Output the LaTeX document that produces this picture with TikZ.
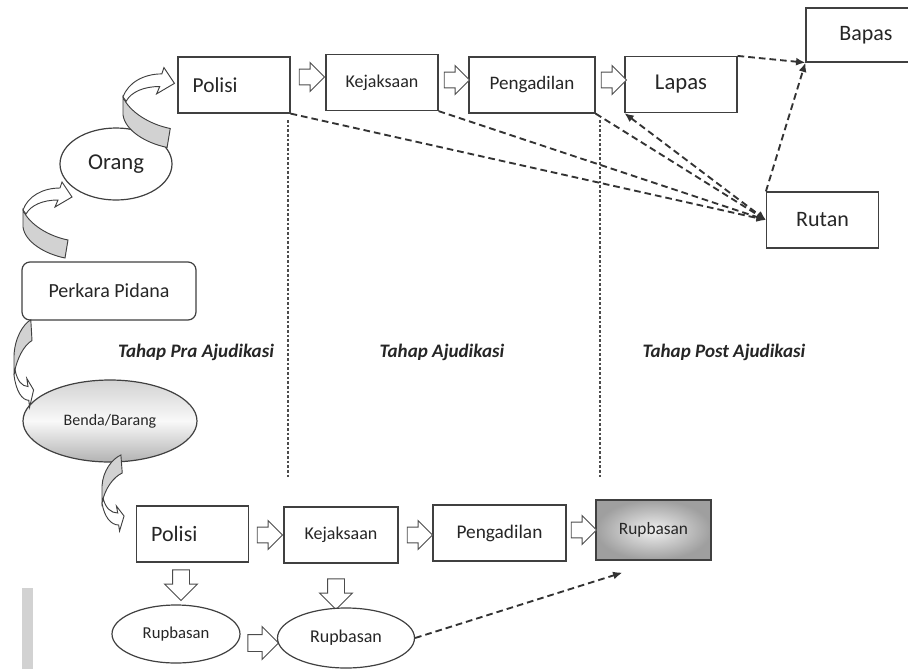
\documentclass[tikz,border=0pt]{standalone}
\usepackage{fontspec}
\setmainfont{Carlito}
\usetikzlibrary{shapes.geometric,shapes.arrows,arrows.meta}

\tikzset{
  box/.style={draw=black!75, line width=0.9pt, fill=white, inner sep=0pt,
    minimum width=84pt, minimum height=42pt, text=black!85},
  polisi/.style={box, align=left, text width=62pt, inner xsep=11pt},
  oval/.style={ellipse, draw=black!75, line width=0.9pt, fill=white,
    inner sep=0pt, text=black!85},
  fatarrow/.style={single arrow, draw=black!70, fill=white, line width=0.7pt,
    inner sep=5.5pt, minimum height=19pt, single arrow head extend=5pt},
  bigarrow/.style={fatarrow, inner sep=6pt, minimum height=23pt,
    single arrow head extend=6pt},
  link/.style={draw=black!80, line width=1.4pt, dash pattern=on 5pt off 3pt, ->},
  divider/.style={draw=black!70, line width=0.9pt, dash pattern=on 2pt off 1.5pt},
  phase/.style={font=\fontsize{14.3}{17}\selectfont\bfseries\itshape, text=black!85},
  ribbon/.style={draw=black!75, line width=0.7pt}
}

% 3D curved arrow, folded end at the origin
\newcommand{\curlarrow}[1]{%
  \begin{scope}[#1]
    \filldraw[ribbon, fill=gray!35] (0,0) -- (0,17) .. controls (2,32) and (22,44) .. (42,48)
      -- (45,30) .. controls (25,26) and (6,14) .. (0,0) -- cycle;
    \filldraw[ribbon, fill=white] (0,0) .. controls (5,-14) and (20,-22) .. (37,-22)
      -- (39,-28) -- (49,-13) -- (32,-3) -- (35,-10) .. controls (20,-10) and (8,-5) .. (3,4) -- cycle;
  \end{scope}}

\begin{document}
\begin{tikzpicture}[x=0.75pt, y=-0.75pt, >={Latex[length=7pt,width=6pt]}]
  \useasboundingbox (0,0) rectangle (908,669);
  \clip (0,0) rectangle (908,669);

  % phase dividers
  \draw[divider] (288,120) -- (288,478);
  \draw[divider] (600,120) -- (600,478);

  % orang
  \node[polisi, font=\fontsize{16}{19}\selectfont] (polT) at (234,85) {Polisi};
  \node[box, font=\fontsize{13.5}{16}\selectfont] (kejT) at (382,82.5) {Kejaksaan};
  \node[box, minimum width=94.5pt, font=\fontsize{14.3}{17}\selectfont] (pengT) at (532,85) {Pengadilan};
  \node[box, font=\fontsize{17}{20}\selectfont] (lapas) at (681,84.5) {Lapas};
  \node[box, minimum width=90pt, minimum height=40.5pt, font=\fontsize{16.5}{19}\selectfont] (bapas) at (866,35) {Bapas};
  \node[box, font=\fontsize{16.5}{19}\selectfont] (rutan) at (822.5,220) {Rutan};

  \node[fatarrow] (a1) at (308,77) {};
  \node[fatarrow] (a2) at (453,80) {};
  \node[fatarrow] (a3) at (610,80) {};

  \node[oval, minimum width=84pt, minimum height=54pt, font=\fontsize{17}{20}\selectfont] (orang) at (116,164) {Orang};
  \node[box, rounded corners=6pt, minimum width=130.5pt, minimum height=43.5pt,
    font=\fontsize{15}{18}\selectfont] (perkara) at (109,291) {Perkara Pidana};
  \node[oval, minimum width=130.5pt, minimum height=61.5pt, top color=gray!35,
    bottom color=gray!60, middle color=gray!5, font=\fontsize{12}{14}\selectfont] (benda) at (110,421) {Benda/Barang};

  \curlarrow{shift={(23,210)}}
  \curlarrow{shift={(123,97)}, scale=1.05}
  \curlarrow{shift={(14,375)}, xscale=0.4, yscale=-1.15}
  \curlarrow{shift={(102,503)}, xscale=0.45, yscale=-1}

  \node[phase] (pra) at (196,352) {Tahap Pra Ajudikasi};
  \node[phase] (adj) at (442,352) {Tahap Ajudikasi};
  \node[phase] (post) at (724,352) {Tahap Post Ajudikasi};

  % benda/barang
  \node[polisi, font=\fontsize{16.5}{19}\selectfont] (polB) at (192.5,534) {Polisi};
  \node[box, minimum width=85.5pt, font=\fontsize{13.5}{16}\selectfont] (kejB) at (341,535) {Kejaksaan};
  \node[box, minimum width=99.75pt, font=\fontsize{14.5}{17}\selectfont] (pengB) at (499.5,533) {Pengadilan};
  \node[box, minimum width=86.25pt, minimum height=45pt, inner color=gray!12,
    outer color=gray!75, font=\fontsize{13}{15}\selectfont] (rupB) at (653.5,530) {Rupbasan};

  \node[fatarrow] (b1) at (266,535) {};
  \node[fatarrow] (b2) at (416,535) {};
  \node[fatarrow] (b3) at (580,530) {};
  \node[bigarrow, shape border rotate=270] (d1) at (181,581) {};
  \node[bigarrow, shape border rotate=270] (d2) at (336,590) {};
  \node[bigarrow] (r1) at (259,643) {};

  \node[oval, minimum width=96pt, minimum height=43.5pt, font=\fontsize{12.5}{15}\selectfont] (rb1) at (176,634) {Rupbasan};
  \node[oval, minimum width=102.75pt, minimum height=45pt, font=\fontsize{13.5}{16}\selectfont] (rb2) at (346,638) {Rupbasan};

  % dashed links
  \draw[link] (polT.south east) -- (rutan.west);
  \draw[link] (kejT.south east) -- (rutan.west);
  \draw[link] (pengT.south east) -- (rutan.west);
  \draw[link, <->] (lapas.south west) -- (rutan.west);
  \draw[link] (lapas.north east) -- (bapas.south west);
  \draw[link] (rutan.north west) -- (bapas.south west);
  \draw[link] (rb2.east) -- ([shift={(27,12)}]rupB.south west);

  \fill[gray!35] (22,588) rectangle (33,669);
\end{tikzpicture}
\end{document}
